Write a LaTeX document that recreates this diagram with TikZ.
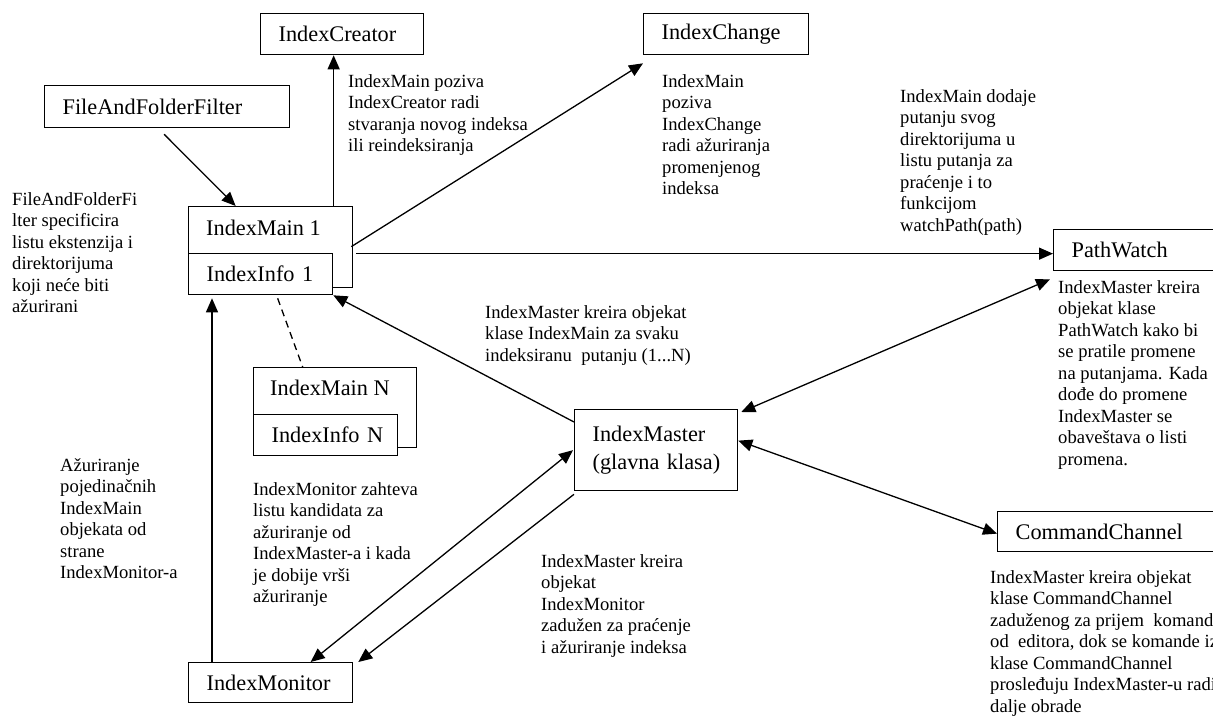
\documentclass[tikz,border=0pt]{standalone}
\usepackage{fontspec}
\setmainfont{Liberation Serif}
\usetikzlibrary{arrows.meta,calc}
\newcommand\notetext[1]{\begin{tabular}[t]{@{}l@{}}#1\end{tabular}}
\newcommand\boxfont{\fontsize{22.3}{28}\selectfont}
\newcommand\notefont{\fontsize{18.6}{21.5}\selectfont}
\tikzset{
  cls/.style={draw, line width=1.3pt, fill=white, anchor=north west, inner xsep=18pt, inner ysep=0pt,
    text width=#1, align=left, font=\boxfont, minimum height=41pt},
  outerbox/.style={draw, line width=1.3pt, fill=white, anchor=north west, inner sep=0pt},
  lbl/.style={anchor=base west, inner sep=0pt, font=\boxfont},
  note/.style={anchor=base west, inner sep=0pt, font=\notefont},
  arr/.style={line width=1.3pt, -{Triangle[length=14pt,width=12pt]}},
  darr/.style={line width=1.3pt, {Triangle[length=14pt,width=12pt]}-{Triangle[length=14pt,width=12pt]}},
  dashline/.style={line width=1.3pt, dash pattern=on 7pt off 5pt}
}
\begin{document}
\begin{tikzpicture}[x=1pt,y=-1pt]
\useasboundingbox (0,0) rectangle (1213,715);
\clip (0,0) rectangle (1213,715);

% boxes
\node[cls=127pt] (creator) at (260,13) {\mbox{IndexCreator}};
\node[cls=129pt] (change) at (643,13) {\mbox{IndexChange}};
\node[cls=209pt, minimum height=42pt] (ffilt) at (44,85) {\mbox{FileAndFolderFilter}};

\node[outerbox, minimum width=164pt, minimum height=81pt] (im1) at (188,206) {};
\node[cls=108pt] (ii1) at (188,253) {\mbox{IndexInfo 1}};
\node[lbl] (im1t) at (206,235) {IndexMain 1};

\node[outerbox, minimum width=163pt, minimum height=80pt] (imN) at (253,367) {};
\node[cls=108pt] (iiN) at (253,414) {\mbox{IndexInfo N}};
\node[lbl] (imNt) at (270,395) {IndexMain N};

\node[cls=127pt, minimum height=81pt] (master) at (574,409) {\mbox{IndexMaster}\\\mbox{(glavna klasa)}};
\node[cls=128pt, minimum height=40pt] (mon) at (188,662) {\mbox{IndexMonitor}};
\node[cls=134pt] (pw) at (1053,229) {\mbox{PathWatch}};
\node[cls=194pt, minimum height=40pt] (cc) at (997,511) {\mbox{CommandChannel}};

% connectors
\draw[arr] ([xshift=-3pt,yshift=-6pt]ffilt.south) -- ([xshift=-35pt]im1.north);
\draw[arr] ([xshift=63pt]im1.north) -- ([xshift=63pt]im1.north |- creator.south);
\draw[arr] ([xshift=-2pt,yshift=0.5pt]im1.east) -- ([yshift=-8pt]change.south west);
\draw[arr] ([xshift=3pt,yshift=-6.5pt]im1.east) -- ([yshift=-3.5pt]pw.west);
\draw[dashline] ([xshift=17pt,yshift=-3pt]ii1.south) -- ([xshift=-32.5pt]imN.north);
\draw[arr] ([yshift=-13pt]master.north west) -- (ii1.south east);
\draw[darr] ([xshift=3pt,yshift=-3pt]master.north east) -- ([xshift=-3pt,yshift=-8pt]pw.south west);
\draw[darr] ([yshift=9.5pt]master.east) -- ([yshift=-2pt]cc.west);
\draw[darr] ([xshift=-1pt]master.west) -- ([xshift=40pt]mon.north);
\draw[arr] ([yshift=-3pt]master.south west) -- ([xshift=5pt]mon.north east);
\draw[arr] ([xshift=24pt]mon.north west) -- ([xshift=24pt,yshift=-3pt]ii1.south west);

% notes
\node[note] (t1) at (12,205) {\notetext{FileAndFolderFi\\lter specificira\\listu ekstenzija i\\direktorijuma\\koji neće biti\\ažurirani}};
\node[note] (t2) at (348,87) {\notetext{IndexMain poziva\\IndexCreator radi\\stvaranja novog indeksa\\ili reindeksiranja}};
\node[note] (t3) at (662,87) {\notetext{IndexMain\\poziva\\IndexChange\\radi ažuriranja\\promenjenog\\indeksa}};
\node[note] (t4) at (900,102) {\notetext{IndexMain dodaje\\putanju svog\\direktorijuma u\\listu putanja za\\praćenje i to\\funkcijom\\watchPath(path)}};
\node[note] (t5) at (485,318) {\notetext{IndexMaster kreira objekat\\klase IndexMain za svaku\\indeksiranu\ \ putanju (1...N)}};
\node[note] (t6) at (1058,293) {\notetext{IndexMaster kreira\\objekat klase\\PathWatch kako bi\\se pratile promene\\na putanjama. Kada\\dođe do promene\\IndexMaster se\\obaveštava o listi\\promena.}};
\node[note] (t7) at (60,471) {\notetext{Ažuriranje\\pojedinačnih\\IndexMain\\objekata od\\strane\\IndexMonitor-a}};
\node[note] (t8) at (253,495) {\notetext{IndexMonitor zahteva\\listu kandidata za\\ažuriranje od\\IndexMaster-a i kada\\je dobije vrši\\ažuriranje}};
\node[note] (t9) at (541,567) {\notetext{IndexMaster kreira\\objekat\\IndexMonitor\\zadužen za praćenje\\i ažuriranje indeksa}};
\node[note] (t10) at (990,583) {\notetext{IndexMaster kreira objekat\\klase CommandChannel\\zaduženog za prijem\ \ komande\\od\ \ editora, dok se komande iz\\klase CommandChannel\\prosleđuju IndexMaster-u radi\\dalje obrade}};
\end{tikzpicture}
\end{document}
